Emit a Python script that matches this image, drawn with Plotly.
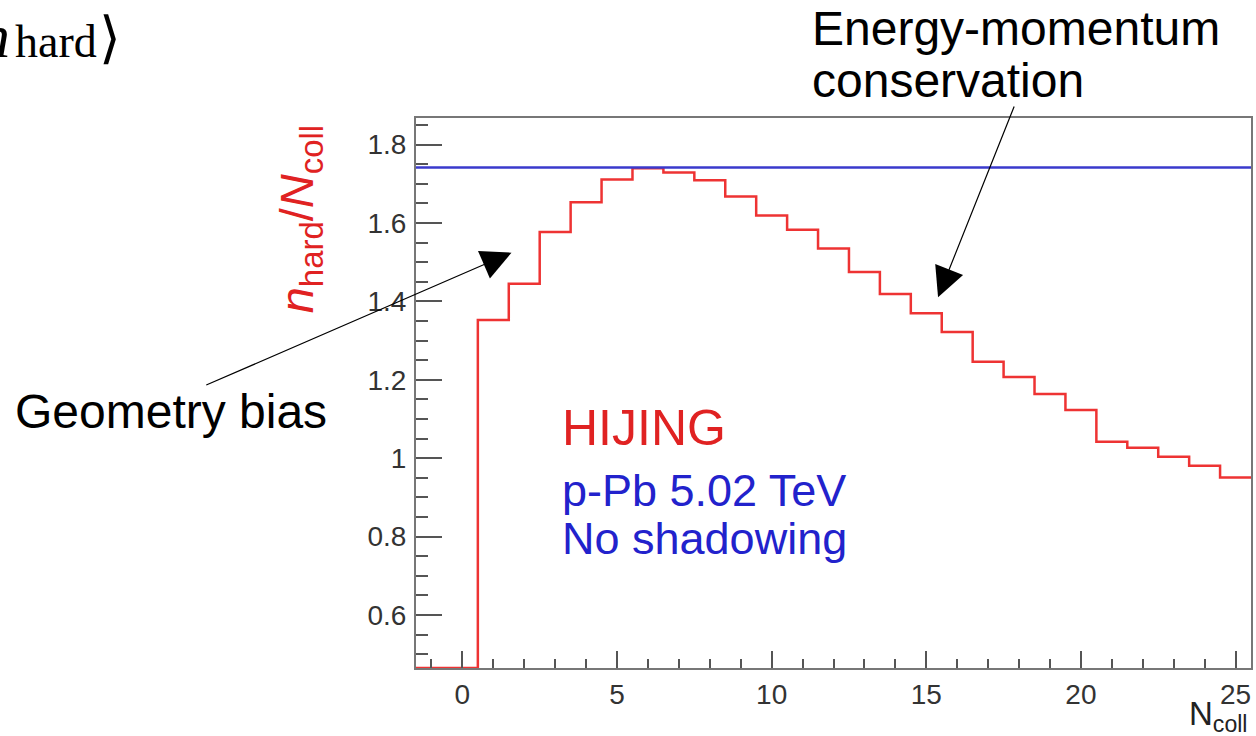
import numpy as np
import plotly.graph_objects as go

# ---------------- data ----------------
bin_centers = list(range(-1, 26))
bin_values = [0.0, 0.0,
              1.353, 1.445, 1.577, 1.653, 1.711, 1.740, 1.729, 1.709, 1.668, 1.619,
              1.583, 1.535, 1.475, 1.419, 1.370, 1.322, 1.246, 1.207, 1.164, 1.123,
              1.042, 1.027, 1.004, 0.981, 0.951]
reference_level = 1.742

x_range = [-1.5, 25.5]
y_range = [0.465, 1.868]
x_tick_vals = [0, 5, 10, 15, 20, 25]
y_tick_vals = [0.6, 0.8, 1.0, 1.2, 1.4, 1.6, 1.8]
y_tick_text = ["0.6", "0.8", "1", "1.2", "1.4", "1.6", "1.8"]

# ---------------- layout geometry ----------------
W, H = 1256, 736
L, R, T, B = 416, 3, 118, 68
PW, PH = W - L - R, H - T - B


def px(xp):
    return (xp - L) / PW


def py(yp):
    return (T + PH - yp) / PH


# histogram as step line over bin edges (values below axis minimum drawn at minimum, ROOT style)
centers = np.array(bin_centers, dtype=float)
vals = np.clip(np.array(bin_values), y_range[0], None)
edges = np.append(centers - 0.5, centers[-1] + 0.5)
step_y = np.append(vals, vals[-1])

fig = go.Figure()
fig.add_trace(go.Scatter(x=edges, y=step_y, mode="lines", line_shape="hv",
                         line=dict(color="#ee3333", width=2.5), showlegend=False,
                         hoverinfo="skip"))
fig.add_hline(y=reference_level, line=dict(color="#3a3acc", width=2.5))

SANS = "Liberation Sans, Arial, sans-serif"
SERIF = "Liberation Serif, DejaVu Serif, serif"

axis_common = dict(showgrid=False, zeroline=False, showline=True, linecolor="#777",
                   linewidth=2, mirror=True, ticks="inside", tickcolor="#555",
                   tickfont=dict(family=SANS, size=28, color="#333"))

fig.update_xaxes(range=x_range, tickmode="array", tickvals=x_tick_vals,
                 ticklen=17, tickwidth=1.5,
                 minor=dict(dtick=1, tick0=0, ticks="inside", ticklen=9,
                            tickcolor="#555", tickwidth=1.5),
                 **axis_common)
fig.update_yaxes(range=y_range, tickmode="array", tickvals=y_tick_vals,
                 ticktext=y_tick_text, ticklen=26, tickwidth=1.5,
                 ticklabelstandoff=2,
                 minor=dict(dtick=0.05, tick0=0, ticks="inside", ticklen=12,
                            tickcolor="#555", tickwidth=1.5),
                 **axis_common)

annotations = []


def txt(text, x, y, size, color="black", family=SANS, xanchor="left",
        yanchor="middle", angle=0):
    annotations.append(dict(text=text, x=px(x), y=py(y), xref="paper", yref="paper",
                            showarrow=False, xanchor=xanchor, yanchor=yanchor,
                            textangle=angle,
                            font=dict(family=family, size=size, color=color)))


# slide texts
txt("Energy-momentum", 811, 29, 48)
txt("conservation", 811, 81, 48)
txt("Geometry bias", 12, 411, 48)
# partial <n_hard> at top-left
txt("<i>n</i>", 11, 36, 62, family=SERIF, xanchor="right")
txt("hard", 12, 41, 46, family=SERIF)
txt("⟩", 109, 37, 56, family="DejaVu Serif, serif", xanchor="center")

# plot texts
txt("HIJING", 560, 428, 50, color="#e02222")
txt("p-Pb 5.02 TeV", 560, 490, 45, color="#2222cc")
txt("No shadowing", 560, 538, 45, color="#2222cc")

# axis titles
txt("<i>n</i><sub>hard</sub>/<i>N</i><sub>coll</sub>", 300, 219, 47,
    color="#e02222", xanchor="center", angle=-90)
txt("N<sub>coll</sub>", 1252, 739, 33, color="#222", xanchor="right",
    yanchor="bottom")

# arrows
annotations.append(dict(x=px(511.7), y=py(252.7), xref="paper", yref="paper",
                        ax=205 - 511.7, ay=385.7 - 252.7, text="", showarrow=True,
                        arrowhead=2, arrowsize=5, arrowwidth=1.2, arrowcolor="black"))
annotations.append(dict(x=px(939.3), y=py(297.3), xref="paper", yref="paper",
                        ax=1016 - 939.3, ay=105 - 297.3, text="", showarrow=True,
                        arrowhead=2, arrowsize=5, arrowwidth=1.2, arrowcolor="black"))

fig.update_layout(width=W, height=H, margin=dict(l=L, r=R, t=T, b=B),
                  paper_bgcolor="white", plot_bgcolor="white",
                  annotations=annotations, showlegend=False)

fig.write_html("out.html")
